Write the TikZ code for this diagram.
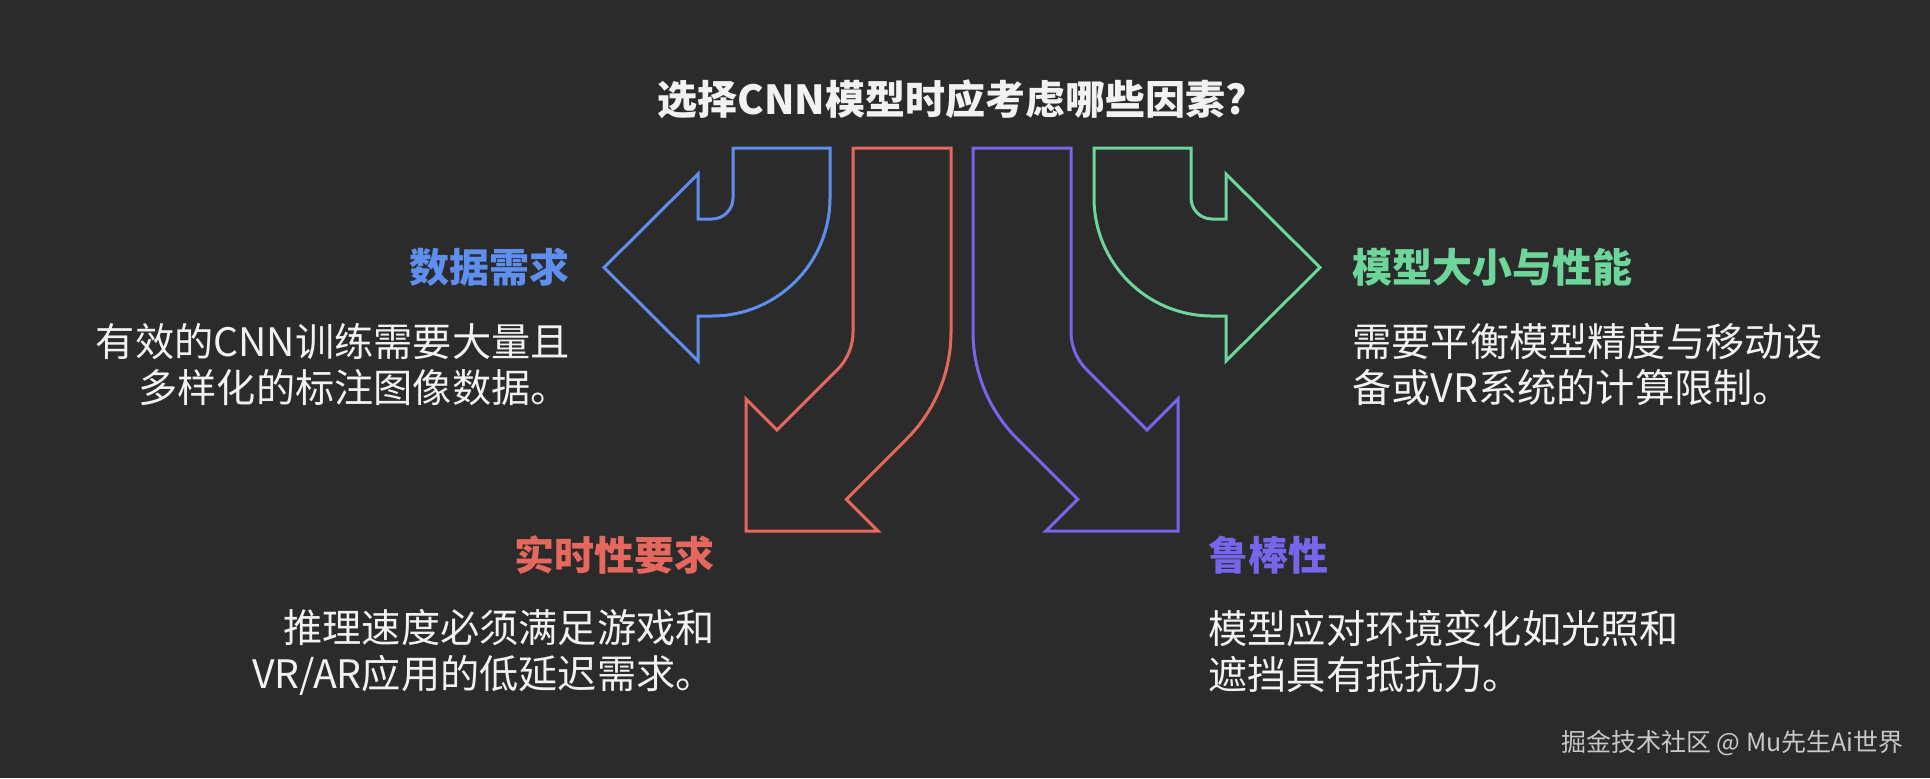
\documentclass[tikz,border=0pt]{standalone}
\usepackage{fontspec}
\setmainfont{Noto Sans CJK SC}
\definecolor{bgc}{HTML}{2B2B2B}
\definecolor{cblue}{HTML}{5E8FEF}
\definecolor{cred}{HTML}{E5675D}
\definecolor{cpurple}{HTML}{7766EC}
\definecolor{cgreen}{HTML}{6ED69A}
\definecolor{txt}{HTML}{F2F2F2}
\definecolor{wm}{HTML}{C8C8C8}
\begin{document}
\begin{tikzpicture}[x=0.5pt,y=-0.5pt,
  bigarrow/.style={line width=1.5pt, line join=miter, draw=#1},
  heading/.style={font=\bfseries\fontsize{20}{24}\selectfont, text=#1, inner sep=0pt},
  body/.style={font=\fontsize{19.6}{23}\selectfont, text=txt, inner sep=0pt},
  titlefont/.style={font=\bfseries\fontsize{20}{24}\selectfont, text=txt, inner sep=0pt},
  wmark/.style={font=\fontsize{12.5}{15}\selectfont, text=wm, inner sep=0pt}]
\fill[bgc] (0,0) rectangle (1930,778);
\useasboundingbox (0,0) rectangle (1930,778);

% title
\node[titlefont, anchor=base] (title) at (952,114) {选择CNN模型时应考虑哪些因素?};

% blue arrow (left)
\draw[bigarrow=cblue] (733,148) -- (830,148) -- (830,198)
  .. controls (830,263.2) and (777.2,316) .. (712,316) -- (698,316) -- (698,361)
  -- (604,267.5) -- (698,174) -- (698,219) -- (712,219)
  .. controls (723.6,219) and (733,209.6) .. (733,198) -- cycle;

% red arrow (down-left)
\draw[bigarrow=cred] (853,148) -- (951,148) -- (951,332)
  .. controls (951,372.05) and (935.1,410.5) .. (906.8,438.8) -- (846.3,499.3)
  -- (878,531) -- (746,531) -- (746,399) -- (777,430) -- (837.5,369.5)
  .. controls (847.4,359.6) and (853,346.1) .. (853,332) -- cycle;

% purple arrow (down-right)
\draw[bigarrow=cpurple] (1071,148) -- (973,148) -- (973,332)
  .. controls (973,372.05) and (988.9,410.5) .. (1017.2,438.8) -- (1077.7,499.3)
  -- (1046,531) -- (1178,531) -- (1178,399) -- (1147,430) -- (1086.5,369.5)
  .. controls (1076.6,359.6) and (1071,346.1) .. (1071,332) -- cycle;

% green arrow (right)
\draw[bigarrow=cgreen] (1191,148) -- (1094,148) -- (1094,198)
  .. controls (1094,263.2) and (1146.8,316) .. (1212,316) -- (1226,316) -- (1226,361)
  -- (1320,267.5) -- (1226,174) -- (1226,219) -- (1212,219)
  .. controls (1200.4,219) and (1191,209.6) .. (1191,198) -- cycle;

% blue text
\node[heading=cblue, anchor=base east] (h1) at (570,282) {数据需求};
\node[body, align=right, anchor=base east] (b1) at (570,402) {有效的CNN训练需要大量且\\多样化的标注图像数据。};

% green text
\node[heading=cgreen, anchor=base west] (h4) at (1352,282) {模型大小与性能};
\node[body, align=left, anchor=base west] (b4) at (1352,402) {需要平衡模型精度与移动设\\备或VR系统的计算限制。};

% red text
\node[heading=cred, anchor=base east] (h2) at (715,570) {实时性要求};
\node[body, align=right, anchor=base east] (b2) at (715,688) {推理速度必须满足游戏和\\VR/AR应用的低延迟需求。};

% purple text
\node[heading=cpurple, anchor=base west] (h3) at (1208,570) {鲁棒性};
\node[body, align=left, anchor=base west] (b3) at (1208,689) {模型应对环境变化如光照和\\遮挡具有抵抗力。};

% watermark
\node[wmark, anchor=base east] (wm) at (1904,751) {掘金技术社区 @ Mu先生Ai世界};
\end{tikzpicture}
\end{document}
